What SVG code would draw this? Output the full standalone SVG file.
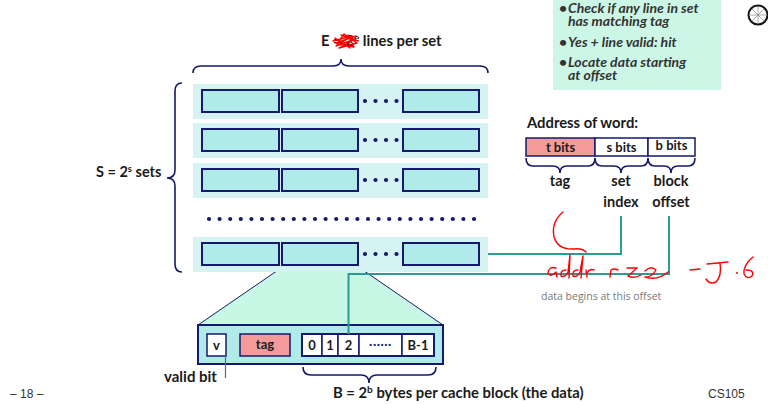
<svg xmlns="http://www.w3.org/2000/svg" width="768" height="404" viewBox="0 0 768 404">
<style>
.t{font-family:Lato,"Liberation Sans",sans-serif;font-weight:bold;fill:#1a1a1a}
.rowbg{fill:#d5f3f3}
.ln{fill:#b0ebe9;stroke:#151a6c;stroke-width:2}
.brace{fill:none;stroke:#151a6c;stroke-width:1.6}
.conn{fill:none;stroke:#2e9a96;stroke-width:2}
.dot{fill:#151a6c}
.red{fill:none;stroke:#ff0000;stroke-width:1.4;stroke-linecap:round;stroke-linejoin:round}
.wb{fill:#fff;stroke:#151a6c;stroke-width:1.5}
</style>
<defs>
<g id="dots4"><circle cx="0" cy="0" r="2.1" class="dot"/><circle cx="10.5" cy="0" r="2.1" class="dot"/><circle cx="21" cy="0" r="2.1" class="dot"/><circle cx="31.5" cy="0" r="2.1" class="dot"/></g>
<g id="setrow">
<rect x="193" y="0" width="295" height="35" class="rowbg"/>
<rect x="202" y="6" width="77" height="22" class="ln"/>
<rect x="282" y="6" width="76" height="22" class="ln"/>
<use href="#dots4" x="365" y="17"/>
<rect x="403" y="6" width="76" height="22" class="ln"/>
</g>
</defs>

<!-- top-right note -->
<g id="note">
<rect x="553" y="0" width="168" height="90" fill="#ccf7e6"/>
<g font-family="Lato,'Liberation Sans',sans-serif" font-weight="bold" font-style="italic" font-size="14" fill="#333">
<text x="559" y="12.5">•<tspan x="568">Check if any line in set</tspan><tspan x="568" y="25.5">has matching tag</tspan></text>
<text x="559" y="46.5">•<tspan x="568">Yes + line valid: hit</tspan></text>
<text x="559" y="66.5">•<tspan x="568">Locate data starting</tspan><tspan x="568" y="79.5">at offset</tspan></text>
</g>
</g>

<!-- wheel icon -->
<g id="wheel">
<circle cx="758" cy="15" r="9.5" fill="#fff" stroke="#111" stroke-width="2"/>
<g stroke="#888" stroke-width="0.7">
<line x1="758" y1="6" x2="758" y2="24"/><line x1="749" y1="15" x2="767" y2="15"/>
<line x1="752" y1="9" x2="764" y2="21"/><line x1="752" y1="21" x2="764" y2="9"/>
</g>
</g>

<!-- E lines per set -->
<g id="elabel">
<text x="321" y="46" class="t" font-size="14.8">E = 2<tspan font-size="10" dy="-5">e</tspan><tspan dy="5"> lines per set</tspan></text>
<path class="red" stroke-width="2.2" d="M333,41 L352,36 L336,46 L355,39 L339,48 L357,43 L344,34 L337,44 L354,47 L348,35 M335,38 L350,48 M341,35 L358,41 M336,43 L356,36"/>
</g>

<!-- sets -->
<g id="set1"><use href="#setrow" y="84"/></g>
<g id="set2"><use href="#setrow" y="123"/></g>
<g id="set3"><use href="#setrow" y="163"/></g>
<g id="setdots">
<circle cx="209" cy="219" r="2.1" class="dot"/><circle cx="219.6" cy="219" r="2.1" class="dot"/><circle cx="230.2" cy="219" r="2.1" class="dot"/><circle cx="240.8" cy="219" r="2.1" class="dot"/><circle cx="251.4" cy="219" r="2.1" class="dot"/><circle cx="262" cy="219" r="2.1" class="dot"/><circle cx="272.6" cy="219" r="2.1" class="dot"/><circle cx="283.2" cy="219" r="2.1" class="dot"/><circle cx="293.8" cy="219" r="2.1" class="dot"/><circle cx="304.4" cy="219" r="2.1" class="dot"/><circle cx="315" cy="219" r="2.1" class="dot"/><circle cx="325.6" cy="219" r="2.1" class="dot"/><circle cx="336.2" cy="219" r="2.1" class="dot"/><circle cx="346.8" cy="219" r="2.1" class="dot"/><circle cx="357.4" cy="219" r="2.1" class="dot"/><circle cx="368" cy="219" r="2.1" class="dot"/><circle cx="378.6" cy="219" r="2.1" class="dot"/><circle cx="389.2" cy="219" r="2.1" class="dot"/><circle cx="399.8" cy="219" r="2.1" class="dot"/><circle cx="410.4" cy="219" r="2.1" class="dot"/><circle cx="421" cy="219" r="2.1" class="dot"/><circle cx="431.6" cy="219" r="2.1" class="dot"/><circle cx="442.2" cy="219" r="2.1" class="dot"/><circle cx="452.8" cy="219" r="2.1" class="dot"/><circle cx="463.4" cy="219" r="2.1" class="dot"/><circle cx="474" cy="219" r="2.1" class="dot"/>
</g>

<!-- zoom trapezoid -->
<g id="fan">
<path d="M284,266 L357,266 L443,325 L198,325 Z" fill="#c8f7e6"/>
<path d="M284,266 L198,325 M357,266 L443,325" stroke="#151a6c" stroke-width="1" fill="none"/>
</g>
<g id="set4"><use href="#setrow" y="237"/></g>

<!-- braces -->
<g id="braces">
<path class="brace" d="M193,73 Q193,66 201,66 L333,66 Q341,66 341,59 Q341,66 349,66 L480,66 Q488,66 488,73"/>
<path class="brace" d="M182,83 Q175,83 175,91 L175,170 Q175,178 167,178 Q175,178 175,186 L175,264 Q175,272 182,272"/>
<path class="brace" d="M526,158 Q526,166 533,166 L553,166 Q560,166 560,173 Q560,166 567,166 L588,166 Q595,166 595,158"/>
<path class="brace" d="M595,158 Q595,166 602,166 L614,166 Q621,166 621,173 Q621,166 628,166 L641,166 Q648,166 648,158"/>
<path class="brace" d="M648,158 Q648,166 655,166 L664,166 Q671,166 671,173 Q671,166 678,166 L688,166 Q695,166 695,158"/>
<path class="brace" d="M303,367 Q303,375 311,375 L361,375 Q369,375 369,383 Q369,375 377,375 L428,375 Q436,375 436,367"/>
</g>

<text x="96" y="177" class="t" font-size="14.5">S = 2<tspan font-size="9.5" dy="-5">s</tspan><tspan dy="5"> sets</tspan></text>

<!-- cache line detail -->
<g id="line">
<rect x="198" y="325" width="245" height="39" fill="#b0ebe9" stroke="#151a6c" stroke-width="2"/>
<rect x="207" y="334" width="19" height="22" class="wb"/>
<text x="216.5" y="350" class="t" font-size="13" text-anchor="middle">v</text>
<rect x="240" y="334" width="50" height="22" fill="#f59a9a" stroke="#151a6c" stroke-width="1.5"/>
<text x="265" y="349" class="t" font-size="13" text-anchor="middle">tag</text>
<rect x="302" y="334" width="20" height="22" class="wb"/>
<rect x="322" y="334" width="16" height="22" class="wb"/>
<rect x="338" y="334" width="21" height="22" class="wb"/>
<rect x="359" y="334" width="43" height="22" class="wb"/>
<rect x="402" y="334" width="32" height="22" class="wb"/>
<rect x="302" y="334" width="132" height="22" fill="none" stroke="#151a6c" stroke-width="2"/>
<text x="312" y="350" class="t" font-size="13" text-anchor="middle">0</text>
<text x="330" y="350" class="t" font-size="13" text-anchor="middle">1</text>
<text x="348.5" y="350" class="t" font-size="13" text-anchor="middle">2</text>
<text x="380.5" y="348" font-family="Lato,'Liberation Sans',sans-serif" font-weight="bold" font-size="12" fill="#151a6c" text-anchor="middle" letter-spacing="0.5">······</text>
<text x="418" y="350" class="t" font-size="13" text-anchor="middle">B-1</text>
</g>

<g id="validbit">
<path d="M225.5,356 L225.5,378" stroke="#5a6a8a" stroke-width="1.2" fill="none"/>
<text x="164" y="382" class="t" font-size="15">valid bit</text>
</g>

<text x="333" y="398" class="t" font-size="14.8">B = 2<tspan font-size="10" dy="-5">b</tspan><tspan dy="5"> bytes per cache block (the data)</tspan></text>

<!-- address -->
<g id="address">
<text x="527" y="128" class="t" font-size="14.8">Address of word:</text>
<rect x="526" y="138" width="69" height="18" fill="#f59a9a" stroke="#151a6c" stroke-width="1.5"/>
<rect x="595" y="138" width="53" height="18" fill="#fff" stroke="#151a6c" stroke-width="1.5"/>
<rect x="648" y="138" width="47" height="18" fill="#fff" stroke="#151a6c" stroke-width="1.5"/>
<text x="560.5" y="152" class="t" font-size="13" text-anchor="middle">t bits</text>
<text x="621.5" y="152" class="t" font-size="13" text-anchor="middle">s bits</text>
<text x="671.5" y="150" class="t" font-size="13" text-anchor="middle">b bits</text>
<text x="560" y="186" class="t" font-size="14.5" text-anchor="middle">tag</text>
<text x="621" y="186" class="t" font-size="14.5" text-anchor="middle">set</text>
<text x="671" y="186" class="t" font-size="14.5" text-anchor="middle">block</text>
<text x="621" y="207" class="t" font-size="14.5" text-anchor="middle">index</text>
<text x="671" y="207" class="t" font-size="14.5" text-anchor="middle">offset</text>
</g>

<!-- connectors -->
<g id="connectors">
<path class="conn" d="M488,254 L621,254 L621,216"/>
<path class="conn" d="M669,216 L669,274 L348.5,274 L348.5,334"/>
</g>

<text x="541" y="300" font-family="'Open Sans','Liberation Sans',sans-serif" font-size="10.5" fill="#7a7a7a">data begins at this offset</text>

<!-- handwriting -->
<g id="ink">
<path class="red" d="M563,212 Q551,222 554,237 Q558,250 574,249 Q582,248 586,252"/>
<path class="red" d="M556,268 Q549,266 548,273 Q550,278 556,272 L557,277"/>
<path class="red" d="M566,270 Q560,270 561,276 Q565,278 568,272 L570,255 L569,278"/>
<path class="red" d="M578,270 Q572,270 573,276 Q577,278 580,272 L583,256 L581,278"/>
<path class="red" d="M586,270 L587,277 M587,273 Q590,268 594,270"/>
<path class="red" d="M610,277 L611,270 Q614,268 618,270"/>
<path class="red" d="M627,268 L637,268 L628,276 Q634,279 641,275"/>
<path class="red" d="M645,271 Q651,265 656,270 Q651,278 645,277 Q658,281 668,272"/>
<path class="red" d="M690,270 L700,269"/>
<path class="red" d="M707,264 L728,262 M720,263 Q722,276 716,282 Q710,285 706,279"/>
<circle cx="737" cy="273" r="1" fill="#ff0000"/>
<path class="red" d="M753,257 Q743,265 744,274 Q747,280 752,276 Q755,270 746,270"/>
</g>

<text x="10" y="398" font-family="'Liberation Sans',Arial,sans-serif" font-size="12" fill="#333">– 18 –</text>
<text x="708" y="398" font-family="'Liberation Sans',Arial,sans-serif" font-size="12" fill="#333">CS105</text>
</svg>
